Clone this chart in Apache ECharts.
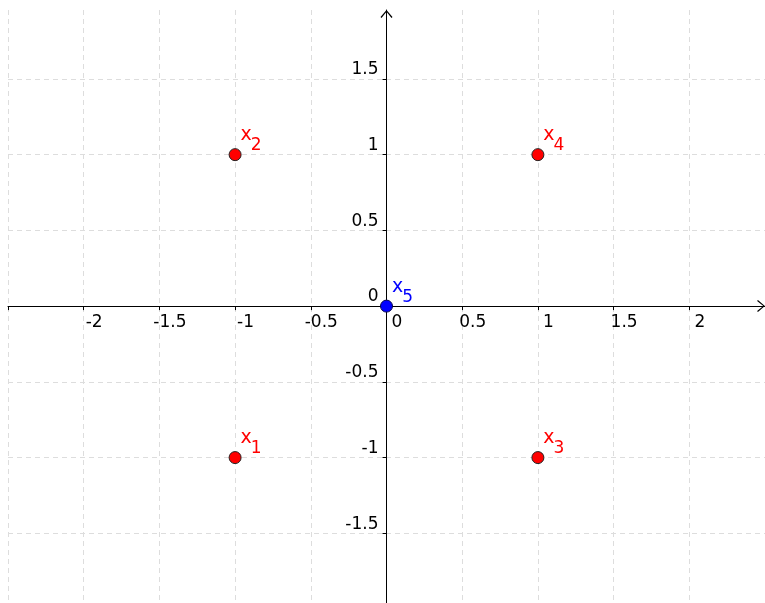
<!DOCTYPE html>
<html><head><meta charset="utf-8">
<script src="https://cdn.jsdelivr.net/npm/echarts@6/dist/echarts.min.js"></script>
<style>html,body{margin:0;padding:0;background:#fff}#c{width:765px;height:603px}</style>
</head>
<body><div id="c"></div>
<script>
// Data
const pointNames = ['1', '2', '3', '4'];
const pointX = [-1, -1, 1, 1];
const pointY = [-1, 1, -1, 1];
const originNames = ['5'];
const originX = [0];
const originY = [0];
// Axis tick labels / grid positions
const xTickLabels = [-2, -1.5, -1, -0.5, 0, 0.5, 1, 1.5, 2];
const xGridValues = [-2.5, -2, -1.5, -1, -0.5, 0, 0.5, 1, 1.5, 2, 2.5];
const yTickLabels = [-1.5, -1, -0.5, 0, 0.5, 1, 1.5];
const yGridValues = [-1.5, -1, -0.5, 0, 0.5, 1, 1.5];
const xRange = [-2.5, 2.5];
const yRange = [-1.96, 1.955];

const FONT = 'DejaVu Sans';
const arrowPath = 'path://M0,7 L6,0 L12,7 L11,7.8 L6,1.6 L1,7.8 Z';

// text-only series: labels anchored to data coordinates via the axes
function textSeries(xs, ys, texts, color, fontSize, pos, align) {
  return {
    type: 'scatter', symbol: 'circle', symbolSize: 0, silent: true, z: 6,
    itemStyle: {color: 'rgba(0,0,0,0)', opacity: 1},
    label: {
      show: true, formatter: p => p.name, position: pos, align: align, verticalAlign: 'top',
      color: color, opacity: 1, fontFamily: FONT, fontSize: fontSize, lineHeight: fontSize
    },
    emphasis: {disabled: true},
    data: xs.map((x, i) => ({name: texts[i], value: [x, ys[i]]}))
  };
}

const chart = echarts.init(document.getElementById('c'), null, {renderer: 'canvas'});
const splitLine = {show: true, lineStyle: {color: '#dddddd', type: [5, 4], width: 1}};
chart.setOption({
  animation: false,
  backgroundColor: '#ffffff',
  grid: {left: 8, right: 0, top: 10, bottom: 0, containLabel: false, outerBoundsMode: 'none'},
  xAxis: {
    type: 'value', min: xRange[0], max: xRange[1], interval: 0.5,
    axisLine: {show: true, onZero: true, lineStyle: {color: '#000', width: 1},
      symbol: ['none', arrowPath], symbolSize: [12, 8], symbolOffset: [0, -4]},
    axisTick: {show: true, length: 4, lineStyle: {color: '#000'}, customValues: xGridValues},
    axisLabel: {show: false},
    splitLine: splitLine
  },
  yAxis: {
    type: 'value', min: yRange[0], max: yRange[1],
    axisLine: {show: true, onZero: true, lineStyle: {color: '#000', width: 1},
      symbol: ['none', arrowPath], symbolSize: [12, 8], symbolOffset: [0, -4]},
    axisTick: {show: true, length: 4, lineStyle: {color: '#000'}, customValues: yGridValues},
    axisLabel: {show: false},
    splitLine: splitLine
  },
  series: [
    {
      type: 'scatter', symbol: 'circle', symbolSize: 12, z: 5,
      itemStyle: {color: '#ff0000', borderColor: '#222222', borderWidth: 1, opacity: 1},
      data: pointX.map((x, i) => ({name: pointNames[i], value: [x, pointY[i]]}))
    },
    {
      type: 'scatter', symbol: 'circle', symbolSize: 12, z: 5,
      itemStyle: {color: '#0000ff', borderColor: '#00004d', borderWidth: 1, opacity: 1},
      data: originX.map((x, i) => ({name: originNames[i], value: [x, originY[i]]}))
    },
    // point labels: "x" + subscript index
    textSeries(pointX, pointY, pointX.map(() => 'x'), '#ff0000', 19, [5.4, -28.8], 'left'),
    textSeries(pointX, pointY, pointNames, '#ff0000', 17, [15.7, -17.1], 'left'),
    textSeries(originX, originY, originX.map(() => 'x'), '#0000ff', 19, [5.4, -28.8], 'left'),
    textSeries(originX, originY, originNames, '#0000ff', 17, [15.7, -17.1], 'left'),
    // axis tick labels
    textSeries(xTickLabels, xTickLabels.map(() => 0), xTickLabels.map(String), '#000000', 17, [10.5, 8.4], 'center'),
    textSeries(yTickLabels.map(() => 0), yTickLabels, yTickLabels.map(String), '#000000', 17, [-8, -17.6], 'right')
  ]
});
</script>
</body></html>
